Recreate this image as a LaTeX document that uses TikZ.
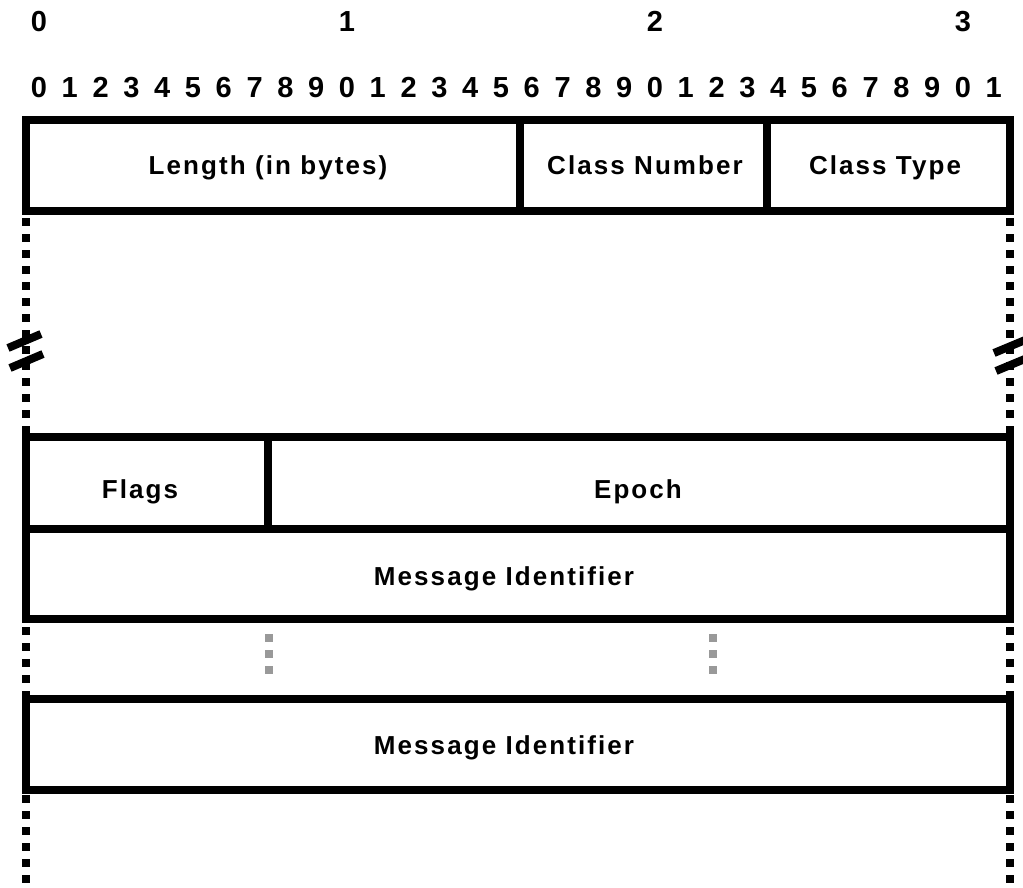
\documentclass[tikz,border=0pt]{standalone}
\usepackage{fontspec}
\setmainfont{Liberation Sans}
\begin{document}
\begin{tikzpicture}[x=1pt,y=-1pt,
  box/.style={draw=black,line width=8pt,line join=miter},
  dotline/.style={draw=black,line width=8pt,dash pattern=on 8pt off 8pt},
  brk/.style={draw=black,line width=8pt},
  gdot/.style={fill=black!40,draw=none},
  digit/.style={inner sep=0pt,anchor=base,font=\fontsize{29}{31}\selectfont\bfseries},
  lab/.style={inner sep=0pt,anchor=base,font=\fontsize{26}{28}\selectfont\bfseries\addfontfeatures{LetterSpace=8}}]
\useasboundingbox (0,0) rectangle (1023,888);
% bit ruler
\foreach \i/\t in {0/0,10/1,20/2,30/3}{
  \node[digit] (top\i) at ({39+30.8*\i},32) {\t};
}
\foreach \i in {0,...,31}{
  \pgfmathtruncatemacro{\d}{mod(\i,10)}
  \node[digit] (bit\i) at ({39+30.8*\i},98) {\d};
}
% header box
\draw[box] (26,120.5) rectangle (1010,211);
\draw[box] (520,120.5) -- (520,211);
\draw[box] (767,120.5) -- (767,211);
\node[lab] (len) at (268,175) {Length (in bytes)};
\node[lab] (cnum) at (645,175) {Class Number};
\node[lab] (ctype) at (885,175) {Class Type};
% dotted sides top
\coordinate (l1a) at (26,218); \coordinate (l1b) at (26,433);
\coordinate (r1a) at (1010,218); \coordinate (r1b) at (1010,433);
\draw[dotline] (l1a) -- (l1b);
\draw[dotline] (r1a) -- (r1b);
% break marks
\draw[brk] (8,348) -- (41,334);
\draw[brk] (10,368) -- (43,354);
\draw[brk] (994,353) -- (1030,338);
\draw[brk] (996,371) -- (1032,356);
% flags / epoch
\draw[box] (26,437) rectangle (1010,529);
\draw[box] (268,437) -- (268,529);
\node[lab] (flags) at (140,498) {Flags};
\node[lab] (epoch) at (638,498) {Epoch};
% message id 1
\draw[box] (26,529) rectangle (1010,619);
\node[lab] (mid1) at (504,585) {Message Identifier};
% gap
\coordinate (l2a) at (26,627); \coordinate (l2b) at (26,695);
\coordinate (r2a) at (1010,627); \coordinate (r2b) at (1010,695);
\draw[dotline] (l2a) -- (l2b);
\draw[dotline] (r2a) -- (r2b);
\foreach \x in {269,713}{
  \foreach \y in {638,654,670}{
    \fill[gdot] (\x-4,\y-4) rectangle (\x+4,\y+4);
  }
}
% message id 2
\draw[box] (26,699) rectangle (1010,790);
\node[lab] (mid2) at (504,754) {Message Identifier};
\coordinate (l3a) at (26,795); \coordinate (l3b) at (26,890);
\coordinate (r3a) at (1010,795); \coordinate (r3b) at (1010,890);
\draw[dotline] (l3a) -- (l3b);
\draw[dotline] (r3a) -- (r3b);
\end{tikzpicture}
\end{document}
